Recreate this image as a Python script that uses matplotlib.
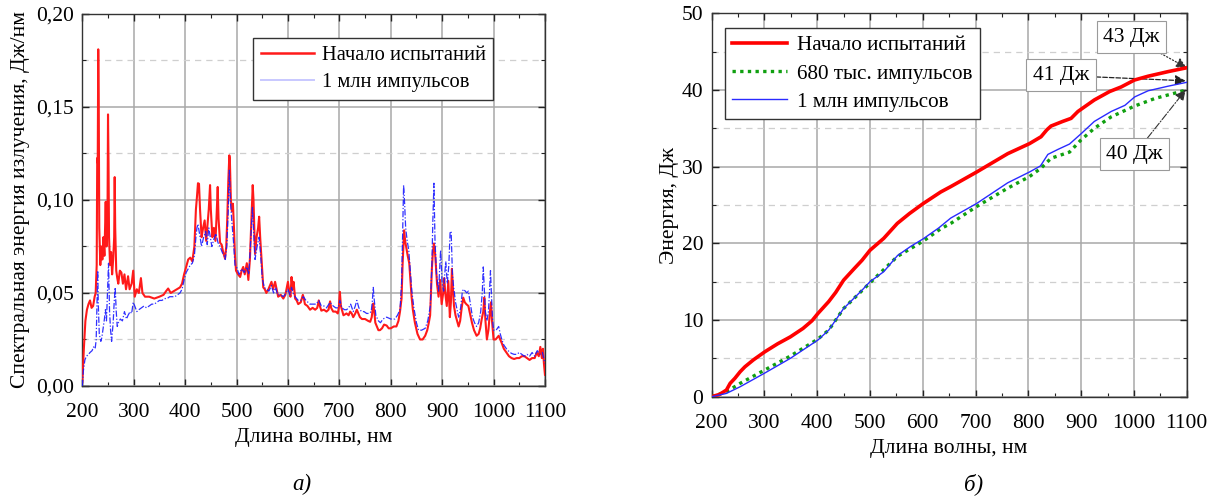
import matplotlib
matplotlib.use("Agg")
import matplotlib.pyplot as plt
from matplotlib.lines import Line2D
from matplotlib.ticker import MultipleLocator

plt.rcParams["font.family"] = ["Liberation Serif", "DejaVu Serif"]

# --- left panel: spectral energy, J/nm ---
spec_red_wl = [200, 203, 206, 209, 212, 215, 218, 221, 224, 226, 228, 229, 230, 231, 232, 233,
               235, 237, 239, 241, 243, 245.5, 247, 249, 250, 251, 252, 254, 256, 258, 260, 262,
               263, 264, 266, 268, 270, 273, 276, 279, 282, 285, 289, 292, 296, 299, 302, 306,
               310, 314, 317, 322, 330, 340, 350, 358, 363, 367, 372, 378, 384, 390, 394, 398,
               402, 406, 410, 414, 418, 421, 423, 425, 427, 429, 432, 435, 438, 441, 444, 446,
               448.5, 450, 453, 456, 459, 461, 463.4, 465, 468, 471, 474, 477.6, 480, 482, 484,
               486, 487, 489, 491, 493, 495, 497, 499, 503, 507, 510, 513, 516, 520, 523, 526,
               529, 531.5, 533, 536, 539, 542, 544, 546, 549, 552, 555, 558, 562, 565, 568, 571,
               575, 578, 581, 586, 591, 595, 600, 603, 605, 607, 609, 611, 614, 617, 620, 625,
               629, 631, 633, 638, 643, 648, 653, 657, 660, 662, 665, 670, 675, 679, 682, 684,
               688, 693, 697, 699, 701, 703, 708, 714, 718, 721, 724, 727, 731, 734, 737, 740,
               744, 750, 756, 760, 763, 766, 768, 770, 773, 776, 779, 783, 787, 792, 796, 800,
               806, 811, 815, 818, 821, 823, 826, 828, 831, 833, 836, 838, 840.5, 843, 847, 852,
               857, 862, 867, 871, 874, 876.6, 878, 880, 882, 884, 886, 888, 890, 893, 896, 899,
               902, 904, 906, 909, 912, 915, 917, 919, 921, 923, 926, 929, 932, 935, 938, 941,
               944, 947, 951, 955, 958, 962, 967, 971, 974, 977, 980, 982, 984, 987, 990, 993,
               995, 997, 1000, 1004, 1007, 1010, 1013, 1016, 1020, 1025, 1030, 1035, 1040, 1045,
               1050, 1055, 1060, 1065, 1070, 1075, 1080, 1084, 1088, 1091, 1094, 1096, 1098, 1100]
spec_red = [0.002, 0.020, 0.035, 0.041, 0.044, 0.046, 0.042, 0.043, 0.048, 0.050, 0.065, 0.1225,
            0.120, 0.181, 0.150, 0.085, 0.065, 0.075, 0.068, 0.080, 0.070, 0.099, 0.075, 0.090,
            0.146, 0.120, 0.080, 0.065, 0.072, 0.060, 0.068, 0.080, 0.1123, 0.085, 0.062, 0.058,
            0.055, 0.062, 0.061, 0.055, 0.060, 0.052, 0.059, 0.052, 0.055, 0.062, 0.048, 0.052,
            0.050, 0.058, 0.050, 0.048, 0.048, 0.047, 0.048, 0.049, 0.051, 0.0524, 0.050, 0.051,
            0.052, 0.053, 0.055, 0.060, 0.064, 0.068, 0.069, 0.067, 0.075, 0.095, 0.1016, 0.109,
            0.1087, 0.095, 0.080, 0.085, 0.089, 0.078, 0.088, 0.095, 0.108, 0.095, 0.080, 0.085,
            0.078, 0.090, 0.107, 0.090, 0.077, 0.076, 0.072, 0.0685, 0.075, 0.090, 0.110, 0.124,
            0.122, 0.100, 0.094, 0.098, 0.085, 0.070, 0.062, 0.060, 0.0586, 0.062, 0.064, 0.060,
            0.066, 0.057, 0.068, 0.090, 0.108, 0.100, 0.071, 0.080, 0.085, 0.091, 0.080, 0.066,
            0.053, 0.052, 0.050, 0.052, 0.054, 0.056, 0.052, 0.056, 0.052, 0.048, 0.049, 0.047,
            0.049, 0.056, 0.050, 0.048, 0.0586, 0.052, 0.056, 0.047, 0.046, 0.044, 0.045, 0.049,
            0.047, 0.044, 0.043, 0.041, 0.042, 0.041, 0.042, 0.046, 0.043, 0.0405, 0.041, 0.040,
            0.041, 0.0455, 0.042, 0.040, 0.040, 0.039, 0.042, 0.0506, 0.043, 0.038, 0.039, 0.038,
            0.040, 0.039, 0.037, 0.039, 0.041, 0.039, 0.037, 0.036, 0.036, 0.035, 0.0345, 0.037,
            0.0443, 0.040, 0.034, 0.032, 0.030, 0.030, 0.031, 0.033, 0.0325, 0.031, 0.031, 0.032,
            0.032, 0.035, 0.040, 0.047, 0.065, 0.0837, 0.078, 0.073, 0.070, 0.066, 0.058, 0.048,
            0.041, 0.034, 0.028, 0.025, 0.025, 0.027, 0.030, 0.034, 0.038, 0.048, 0.063, 0.072,
            0.0766, 0.072, 0.064, 0.055, 0.048, 0.057, 0.044, 0.050, 0.058, 0.050, 0.043, 0.0565,
            0.037, 0.045, 0.063, 0.052, 0.043, 0.038, 0.035, 0.032, 0.035, 0.042, 0.0475, 0.045,
            0.044, 0.043, 0.038, 0.034, 0.030, 0.027, 0.028, 0.031, 0.036, 0.040, 0.0475, 0.036,
            0.025, 0.030, 0.040, 0.045, 0.035, 0.025, 0.025, 0.026, 0.027, 0.025, 0.023, 0.020,
            0.018, 0.016, 0.015, 0.0145, 0.015, 0.015, 0.016, 0.016, 0.015, 0.014, 0.015, 0.015,
            0.018, 0.016, 0.021, 0.015, 0.020, 0.012, 0.006]

spec_blue_wl = [200, 202, 205, 208, 212, 215, 219, 222, 225, 227, 230, 231, 233, 236, 238, 241,
                243, 245, 247, 249, 251, 253, 255, 257, 260, 262, 264, 266, 268, 270, 274, 278,
                282, 286, 289, 293, 296, 299, 302, 306, 310, 315, 320, 325, 330, 335, 340, 345,
                350, 355, 360, 365, 370, 375, 380, 385, 390, 394, 398, 402, 406, 410, 414, 418,
                421, 423, 425, 428, 432, 436, 440, 443, 446, 449, 452, 456, 460, 464, 468, 472,
                476, 478, 481, 484, 486, 488, 491, 494, 497, 500, 505, 510, 515, 520, 524, 528,
                531, 533, 536, 540, 544, 547, 550, 554, 558, 563, 568, 572, 576, 580, 586, 591,
                596, 600, 604, 607, 610, 614, 620, 625, 630, 635, 643, 650, 655, 660, 665, 670,
                675, 682, 688, 693, 698, 701, 705, 710, 714, 718, 722, 727, 731, 734, 738, 743,
                748, 753, 758, 762, 764, 766, 768, 771, 776, 780, 785, 792, 800, 808, 813, 818,
                821, 823, 825, 827, 829, 832, 835, 838, 841, 845, 850, 854, 860, 867, 872, 877,
                880, 882, 884, 886, 889, 893, 897, 900, 903, 905, 907, 910, 913, 915.5, 917.5,
                920, 922, 926, 932, 936, 939, 941, 945, 948, 951, 955, 959, 963, 967, 971, 975,
                978, 980, 982, 984, 987, 990, 992, 994, 996, 998, 1000, 1005, 1010, 1013, 1016,
                1020, 1025, 1030, 1035, 1040, 1045, 1050, 1055, 1060, 1065, 1070, 1075, 1080,
                1085, 1090, 1095, 1100]
spec_blue = [0.0, 0.008, 0.014, 0.016, 0.017, 0.018, 0.019, 0.021, 0.020, 0.025, 0.062, 0.045,
             0.028, 0.024, 0.026, 0.032, 0.036, 0.041, 0.035, 0.050, 0.066, 0.040, 0.030, 0.024,
             0.034, 0.045, 0.053, 0.040, 0.032, 0.034, 0.036, 0.035, 0.040, 0.036, 0.038, 0.040,
             0.039, 0.045, 0.043, 0.040, 0.041, 0.042, 0.043, 0.042, 0.043, 0.044, 0.044, 0.045,
             0.046, 0.046, 0.047, 0.047, 0.048, 0.048, 0.048, 0.049, 0.050, 0.052, 0.057, 0.061,
             0.063, 0.065, 0.066, 0.070, 0.080, 0.085, 0.087, 0.082, 0.075, 0.080, 0.083, 0.076,
             0.085, 0.080, 0.075, 0.079, 0.082, 0.077, 0.075, 0.072, 0.070, 0.068, 0.075, 0.095,
             0.116, 0.100, 0.088, 0.078, 0.065, 0.064, 0.060, 0.063, 0.061, 0.064, 0.060, 0.080,
             0.096, 0.085, 0.068, 0.075, 0.080, 0.070, 0.058, 0.053, 0.052, 0.051, 0.054, 0.050,
             0.053, 0.049, 0.049, 0.048, 0.050, 0.052, 0.049, 0.053, 0.050, 0.048, 0.046, 0.046,
             0.048, 0.046, 0.044, 0.044, 0.044, 0.046, 0.043, 0.043, 0.042, 0.045, 0.043, 0.042,
             0.042, 0.046, 0.042, 0.041, 0.041, 0.042, 0.044, 0.040, 0.043, 0.046, 0.042, 0.040,
             0.040, 0.039, 0.039, 0.040, 0.045, 0.053, 0.046, 0.038, 0.035, 0.034, 0.036, 0.037,
             0.036, 0.036, 0.038, 0.041, 0.055, 0.080, 0.108, 0.098, 0.085, 0.078, 0.073, 0.062,
             0.051, 0.042, 0.034, 0.030, 0.030, 0.031, 0.035, 0.043, 0.065, 0.090, 0.109, 0.079,
             0.060, 0.051, 0.073, 0.055, 0.051, 0.060, 0.067, 0.055, 0.065, 0.083, 0.083, 0.060,
             0.054, 0.045, 0.037, 0.042, 0.050, 0.052, 0.051, 0.050, 0.051, 0.044, 0.037, 0.034,
             0.032, 0.034, 0.040, 0.050, 0.064, 0.052, 0.040, 0.035, 0.040, 0.050, 0.062, 0.048,
             0.036, 0.030, 0.030, 0.032, 0.028, 0.025, 0.022, 0.020, 0.0185, 0.0175, 0.017,
             0.017, 0.018, 0.017, 0.016, 0.017, 0.016, 0.018, 0.016, 0.019, 0.017, 0.018, 0.012]

# --- right panel: cumulative energy, J ---
cum_red_wl = [200, 215, 228, 235, 244, 254, 263, 279, 301, 325, 349, 373, 390, 401.5, 421.7, 435,
              450, 470, 485, 500, 526, 551.7, 575, 601, 634, 653, 702, 761, 802, 824, 835, 843,
              865, 881, 894, 925, 954, 976, 1001, 1027, 1065, 1100]
cum_red = [0, 0.3, 0.87, 1.74, 2.4, 3.26, 3.9, 4.8, 5.87, 6.9, 7.8, 8.9, 9.9, 10.87, 12.4, 13.6,
           15.2, 16.7, 17.8, 19.1, 20.65, 22.6, 23.9, 25.2, 26.7, 27.4, 29.3, 31.7, 33.0, 33.9,
           34.8, 35.3, 35.9, 36.3, 37.2, 38.7, 39.8, 40.4, 41.3, 41.8, 42.4, 42.9]

cum_green_wl = [200, 228, 254, 301, 349, 401, 422, 450, 500, 552, 601, 634, 653, 702, 761, 802,
                824, 843, 878, 900, 925, 957, 1001, 1040, 1078, 1100]
cum_green = [0, 0.65, 1.74, 3.5, 5.3, 7.5, 8.7, 11.5, 14.85, 18.3, 20.3, 21.9, 22.6, 24.8, 27.2,
             28.7, 29.8, 31.1, 31.9, 33.5, 35.0, 36.5, 37.9, 38.9, 39.6, 40.0]

cum_blue_wl = [200, 228, 254, 301, 349, 401.5, 422, 450, 485, 500, 526, 552, 577, 601, 630, 653,
               702, 761, 802, 823, 837, 856, 878, 900, 925, 957, 983, 1001.5, 1027, 1065, 1100]
cum_blue = [0, 0.43, 1.3, 3.1, 5.0, 7.4, 8.7, 11.5, 13.9, 15.0, 16.3, 18.4, 19.6, 20.6, 22.0,
            23.3, 25.2, 27.9, 29.3, 30.1, 31.6, 32.25, 32.95, 34.3, 35.9, 37.2, 38.0, 39.1, 39.9,
            40.5, 41.0]

x_ticks = [200, 300, 400, 500, 600, 700, 800, 900, 1000, 1100]
left_y_ticks = [0.0, 0.05, 0.10, 0.15, 0.20]
left_y_labels = ["0,00", "0,05", "0,10", "0,15", "0,20"]
right_y_ticks = [0, 10, 20, 30, 40, 50]

FS = 15.5


def style_axes(ax, minor_y, xpad):
    ax.set_xlim(200, 1100)
    ax.set_xticks(x_ticks)
    ax.xaxis.set_minor_locator(MultipleLocator(50))
    ax.yaxis.set_minor_locator(MultipleLocator(minor_y))
    ax.tick_params(which="both", direction="in", top=True, right=True,
                   labelsize=FS, colors="#222222", labelcolor="black")
    ax.tick_params(which="major", length=5, width=1.0)
    ax.tick_params(axis="y", which="major", pad=6)
    ax.tick_params(axis="x", which="major", pad=xpad)
    ax.tick_params(which="minor", length=3, width=0.8)
    ax.grid(which="major", color="#a8a8a8", lw=1.1, ls="-")
    ax.yaxis.grid(which="minor", color="#cfcfcf", lw=0.9, ls=(0, (5, 4)))
    ax.set_axisbelow(True)
    for sp in ax.spines.values():
        sp.set_color("#333333")
        sp.set_linewidth(1.0)
    ax.set_xlabel("Длина волны, нм", fontsize=FS, labelpad=4)


fig = plt.figure(figsize=(12.23, 4.99), dpi=100)

# ---------------- left panel ----------------
ax1 = fig.add_axes([0.0673, 0.2265, 0.3783, 0.7455])
ax1.plot(spec_red_wl, spec_red, color="#ff1a1a", lw=1.5, zorder=3)
ax1.plot(spec_blue_wl, spec_blue, color="#1a1aff", lw=0.9, ls=(0, (5, 1.5, 1, 1.5)),
         alpha=0.9, zorder=4)
ax1.set_ylim(0, 0.20)
ax1.set_yticks(left_y_ticks)
ax1.set_yticklabels(left_y_labels)
style_axes(ax1, 0.025, 12.5)
ax1.set_ylabel("Спектральная энергия излучения, Дж/нм", fontsize=FS, labelpad=4)
h1 = [Line2D([], [], color="#ff1a1a", lw=1.8),
      Line2D([], [], color="#c8c8ff", lw=1.4)]
leg1 = ax1.legend(h1, ["Начало испытаний", "1 млн импульсов"], loc="upper left",
                  bbox_to_anchor=(0.3696, 0.9347), borderaxespad=0, fontsize=14.8,
                  frameon=True, fancybox=False, framealpha=1, edgecolor="#333333",
                  handlelength=2.6, handletextpad=0.4, borderpad=0.35, labelspacing=0.4)
leg1.get_frame().set_linewidth(1.0)

# ---------------- right panel ----------------
ax2 = fig.add_axes([0.5819, 0.205, 0.3884, 0.7683])
ax2.plot(cum_red_wl, cum_red, color="#ff0000", lw=2.6, zorder=4,
         label="Начало испытаний")
ax2.plot(cum_green_wl, cum_green, color="#10a010", lw=2.4, ls=(0, (1, 1.3)), zorder=3,
         label="680 тыс. импульсов")
ax2.plot(cum_blue_wl, cum_blue, color="#2a2aff", lw=1.0, zorder=5,
         label="1 млн импульсов")
ax2.set_ylim(0, 50)
ax2.set_yticks(right_y_ticks)
style_axes(ax2, 5, 12.5)
ax2.set_ylabel("Энергия, Дж", fontsize=FS, labelpad=2)
leg2 = ax2.legend(loc="upper left", bbox_to_anchor=(0.028, 0.961), borderaxespad=0,
                  fontsize=15.2, frameon=True, fancybox=False, framealpha=1,
                  edgecolor="#333333", handlelength=2.6, handletextpad=0.45,
                  borderpad=0.35, labelspacing=0.4)
leg2.get_frame().set_linewidth(1.0)

box = dict(boxstyle="square,pad=0.3", facecolor="white", edgecolor="#9a9a9a", lw=0.8)
ax2.annotate("43 Дж", xy=(1100, 42.9), xytext=(995, 46.9), fontsize=FS, ha="center",
             va="center", bbox=box,
             arrowprops=dict(arrowstyle="-|>", ls=":", color="#333333", lw=0.9,
                             shrinkA=0, shrinkB=0))
ax2.annotate("41 Дж", xy=(1098, 41.2), xytext=(862, 41.9), fontsize=FS, ha="center",
             va="center", bbox=box,
             arrowprops=dict(arrowstyle="-|>", ls="--", color="#222222", lw=0.9,
                             shrinkA=0, shrinkB=0))
ax2.annotate("40 Дж", xy=(1098, 40.0), xytext=(1001, 31.6), fontsize=FS, ha="center",
             va="center", bbox=box,
             arrowprops=dict(arrowstyle="-|>", ls="-.", color="#333333", lw=0.8,
                             shrinkA=0, shrinkB=0))

fig.text(0.247, 0.030, "а)", fontsize=FS + 1, style="italic", ha="center", va="center")
fig.text(0.796, 0.030, "б)", fontsize=FS + 1, style="italic", ha="center", va="center")

fig.savefig("out.png", dpi=100)
